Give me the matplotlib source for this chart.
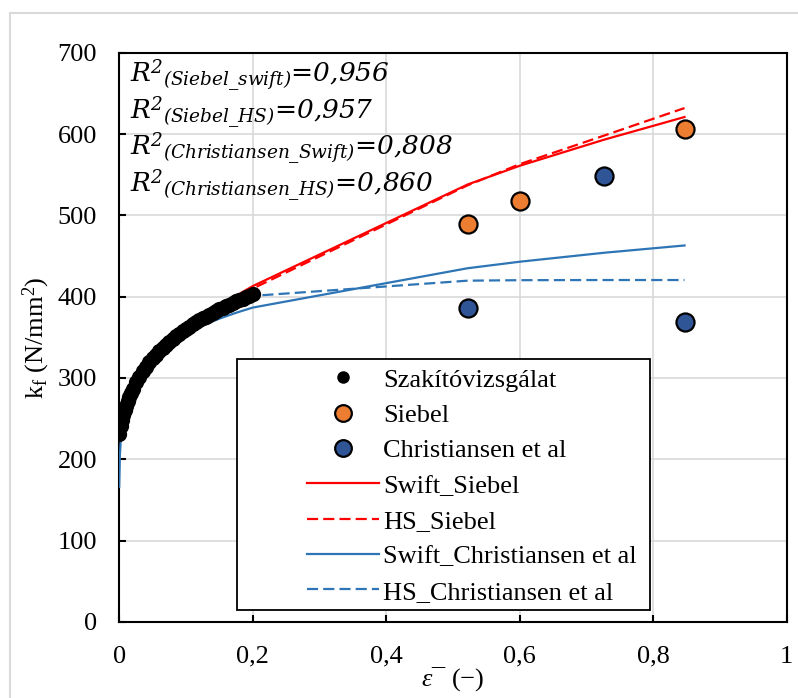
import matplotlib
matplotlib.use('Agg')
import matplotlib.pyplot as plt
from matplotlib.patches import Rectangle
from matplotlib.lines import Line2D

plt.rcParams.update({
    'font.family': 'Liberation Serif',
    'font.size': 19,
    'axes.linewidth': 1.5,
    'mathtext.fontset': 'custom',
    'mathtext.it': 'Liberation Serif:italic',
    'mathtext.rm': 'Liberation Serif',
})

# ── Tensile test (Szakítóvizsgálat) ──
eps_test = [0.0, 0.002, 0.004, 0.006, 0.008, 0.010, 0.0125, 0.015, 0.0175, 0.020,
            0.025, 0.030, 0.035, 0.040, 0.045, 0.050, 0.055, 0.060, 0.065, 0.070,
            0.075, 0.080, 0.085, 0.090, 0.095, 0.100, 0.105, 0.110, 0.115, 0.120,
            0.125, 0.130, 0.135, 0.140, 0.145, 0.150, 0.155, 0.160, 0.165, 0.170,
            0.175, 0.180, 0.185, 0.190, 0.195, 0.200]
kf_test = [231.5, 240.4, 248.0, 254.6, 260.4, 265.7, 271.6, 277.0, 281.9, 286.4,
           294.6, 301.7, 308.1, 313.9, 319.2, 324.2, 328.8, 333.1, 337.1, 340.9,
           344.5, 348.0, 351.2, 354.4, 357.4, 360.3, 363.1, 365.8, 368.3, 370.9,
           373.3, 375.6, 377.9, 380.1, 382.3, 384.4, 386.4, 388.4, 390.3, 392.2,
           394.1, 395.9, 397.7, 399.4, 401.1, 402.8]

# ── Upsetting tests ──
eps_siebel = [0.522, 0.600, 0.847]
kf_siebel = [489, 518, 606]
eps_chr = [0.522, 0.726, 0.847]
kf_chr = [386, 549, 369]

# ── Fitted flow curves ──
eps_fit = [0.0, 0.001, 0.0025, 0.005, 0.01, 0.02, 0.035, 0.05, 0.075, 0.10,
           0.125, 0.15, 0.175, 0.20, 0.522, 0.600, 0.726, 0.847]
swift_siebel = [232, 235, 240, 250, 266, 292, 313, 330, 350, 366,
                378, 390, 401, 413, 538, 561, 593, 621]
hs_siebel = [232, 235, 240, 250, 265, 290, 311, 327, 347, 363,
             375, 387, 398, 410, 537, 563, 598, 632]
swift_chr = [166, 204.5, 226, 245, 266.6, 290.3, 311.1, 325.3, 342.1, 354.6,
             364.6, 373.0, 380.2, 386.6, 435, 443, 454, 463]
hs_chr = [232, 236, 242, 250, 264, 288, 308, 322, 340, 355,
          366, 378, 391, 401, 419.7, 420.3, 420.5, 420.5]

r2_labels = ['(Siebel\\_swift)', '(Siebel\\_HS)',
             '(Christiansen\\_Swift)', '(Christiansen\\_HS)']
r2_values = ['0,956', '0,957', '0,808', '0,860']

red = '#FF0000'
blue_line = '#2E75B6'
orange = '#ED7D31'
blue_mk = '#2F5597'
dash = (5, 2.3)

fig = plt.figure(figsize=(7.98, 6.98), dpi=100)
ax = fig.add_axes([0.1494, 0.1090, 0.8364, 0.8154])

ax.plot(eps_fit, swift_siebel, color=red, lw=1.6, zorder=3)
ax.plot(eps_fit, hs_siebel, color=red, lw=1.6, ls=(0, dash), zorder=3)
ax.plot(eps_fit, swift_chr, color=blue_line, lw=1.6, zorder=3)
ax.plot(eps_fit, hs_chr, color=blue_line, lw=1.6, ls=(0, dash), zorder=3)
ax.plot(eps_test, kf_test, 'o', color='black', ms=11, mew=0, zorder=4)
ax.plot(eps_siebel, kf_siebel, 'o', color=orange, mec='black', ms=13, mew=1.6, zorder=5)
ax.plot(eps_chr, kf_chr, 'o', color=blue_mk, mec='black', ms=13, mew=1.6, zorder=5)

ax.set_xlim(0, 1)
ax.set_ylim(0, 700)
ax.set_xticks([0, 0.2, 0.4, 0.6, 0.8, 1])
ax.set_xticklabels(['0', '0,2', '0,4', '0,6', '0,8', '1'])
ax.set_yticks(range(0, 701, 100))
ax.grid(True, color='#d9d9d9', lw=1.2)
ax.set_axisbelow(True)
ax.tick_params(direction='in', length=5, width=1.5, labelsize=19)
ax.tick_params(axis='x', pad=17)
ax.tick_params(axis='y', pad=16)

ax.set_ylabel('k$_\\mathregular{f}$ (N/mm$^\\mathregular{2}$)', fontsize=19, labelpad=4)
ax.set_xlabel('$\\mathit{ε}$¯ (−)', fontsize=19, labelpad=-2)

# R² annotations
baselines = [81.7, 119.0, 155.0, 191.7]
for lab, val, yb in zip(r2_labels, r2_values, baselines):
    fig.text(130 / 798, 1 - yb / 698,
             'R$^\\mathregular{2}$$_\\mathregular{' + lab + '}$=' + val,
             family='DejaVu Serif', style='italic', fontsize=19,
             va='baseline', ha='left', zorder=6)

# legend box + entries
ax.add_patch(Rectangle((0.1765, 0.0209), 0.6185, 0.441, transform=ax.transAxes,
                       facecolor='white', edgecolor='black', lw=1.3, zorder=6))
handles = [
    Line2D([], [], ls='none', marker='o', color='black', ms=9, mew=0),
    Line2D([], [], ls='none', marker='o', color=orange, mec='black', ms=12, mew=1.6),
    Line2D([], [], ls='none', marker='o', color=blue_mk, mec='black', ms=12, mew=1.6),
    Line2D([], [], color=red, lw=1.6),
    Line2D([], [], color=red, lw=1.6, ls=(0, dash)),
    Line2D([], [], color=blue_line, lw=1.6),
    Line2D([], [], color=blue_line, lw=1.6, ls=(0, dash)),
]
labels = ['Szakítóvizsgálat', 'Siebel', 'Christiansen et al', 'Swift_Siebel',
          'HS_Siebel', 'Swift_Christiansen et al', 'HS_Christiansen et al']
leg = ax.legend(handles, labels, loc='upper left', bbox_to_anchor=(0.281, 0.446),
                frameon=False, borderpad=0, borderaxespad=0, handlelength=2.72,
                handletextpad=0.17, labelspacing=0.45, fontsize=19)
leg.set_zorder(7)

# outer frame
fig.add_artist(Rectangle((10 / 798, -0.05), 1.0, 1.05 - 13 / 698, transform=fig.transFigure,
                         fill=False, edgecolor='#d9d9d9', lw=1.5))

fig.savefig('out.png', dpi=100, facecolor='white')
